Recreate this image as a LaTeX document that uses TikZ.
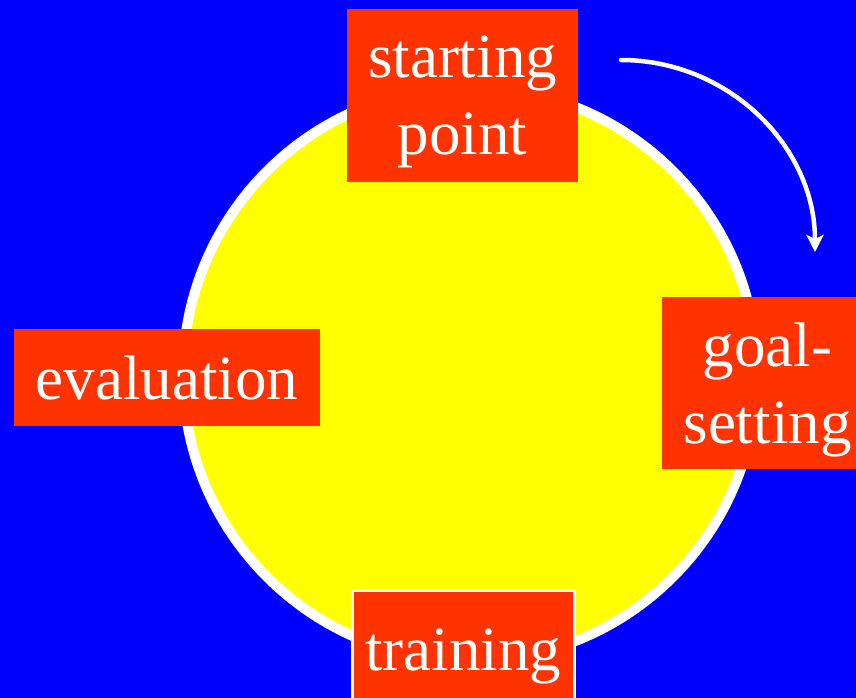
\documentclass[tikz,border=0pt]{standalone}
\usepackage{fontspec}
\setmainfont{Liberation Serif}
\usetikzlibrary{arrows.meta,positioning}
\definecolor{bgblue}{RGB}{0,0,255}
\definecolor{cardred}{RGB}{255,51,0}
\definecolor{hubyellow}{RGB}{255,255,0}

\begin{document}
\begin{tikzpicture}[x=1pt,y=-1pt,
  card/.style={fill=cardred,text=white,inner sep=0pt,outer sep=0pt,align=center,font=\fontsize{63}{77}\selectfont},
  hub/.style={circle,draw=white,line width=10pt,fill=hubyellow,minimum size=574pt,inner sep=0pt},
  arr/.style={draw=white,line width=4.5pt,line cap=round,-{Stealth[length=17pt,width=17pt,inset=4pt]}}
]
\useasboundingbox (0,0) rectangle (856,698);
\fill[bgblue] (0,0) rectangle (856,698);
\clip (0,0) rectangle (856,698);

% the cycle
\node[hub] (cycle) at (470,374) {};

% the four stages
\node[card,minimum width=231pt,minimum height=173pt,text depth=0pt] (start) at (462.5,95.5) {starting\\point};
\node[card,minimum width=211pt,minimum height=172pt,text depth=0pt] (goal)  at (767.5,383)  {goal-\\setting};
\node[card,minimum width=306pt,minimum height=97pt]                 (eval)  at (167,377.5)  {evaluation};
\node[card,draw=white,line width=2.5pt,minimum width=222pt,minimum height=132pt] (train) at (463.3,656.5) {training};

% direction of the cycle
\coordinate (turnfrom) at (621,60);
\coordinate (turnto)   at (815,252);
\draw[arr] (turnfrom) .. controls (728,60) and (815,146) .. (turnto);
\end{tikzpicture}
\end{document}
